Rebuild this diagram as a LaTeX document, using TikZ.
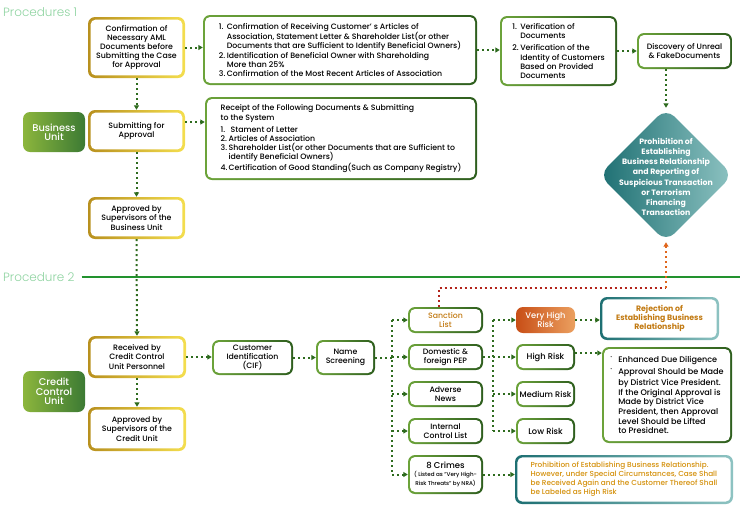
\documentclass[tikz,border=0pt]{standalone}
\usepackage{fontspec}
\setmainfont{Poppins}[UprightFont={* Medium}, BoldFont={* Bold}]
\newfontfamily\procfont{Poppins Light}
\usetikzlibrary{arrows.meta,shapes.geometric}
\definecolor{goldD}{HTML}{B8901E}
\definecolor{goldL}{HTML}{F4DE4E}
\definecolor{greenL}{HTML}{6CA33A}
\definecolor{greenD}{HTML}{2E5E1E}
\definecolor{tealD}{HTML}{1D6F72}
\definecolor{tealL}{HTML}{8EC3C2}
\definecolor{unitL}{HTML}{8CB63C}
\definecolor{unitD}{HTML}{3C7A34}
\definecolor{vhD}{HTML}{C84E16}
\definecolor{vhL}{HTML}{EBA060}
\definecolor{flowgreen}{HTML}{2E6B1E}
\definecolor{flowred}{HTML}{B3241C}
\definecolor{floworange}{HTML}{E0661C}
\definecolor{sepgreen}{HTML}{22922E}
\definecolor{procgreen}{HTML}{8ED3A0}
\definecolor{warntext}{HTML}{C27A12}
\definecolor{protext}{HTML}{D4900A}
\newcommand\listno[1]{\makebox[8pt][l]{#1}}
\newcommand\smalldot{\raisebox{4pt}{\scalebox{0.5}{•}}}
\tikzset{
	ring/.style n args={3}{left color=#1, right color=#2,
		path picture={\fill[white, rounded corners=5pt] ([shift={(#3,-#3)}]path picture bounding box.north west) rectangle ([shift={(-#3,#3)}]path picture bounding box.south east);}},
	box/.style={rounded corners=7pt, align=center, inner sep=2pt, font=\fontsize{7.8}{9.2}\selectfont},
	goldbox/.style={box, ring={goldD}{goldL}{2.6pt}},
	greenbox/.style={box, ring={greenL}{greenD}{2pt}},
	tealbox/.style={box, ring={tealD}{tealL}{2.4pt}},
	unitbox/.style={rounded corners=7pt, align=center, left color=unitL, right color=unitD, text=white, font=\fontsize{9.8}{9.4}\selectfont, minimum width=62pt},
	flow/.style={draw=flowgreen, line width=2pt, dash pattern=on 2pt off 3pt},
	tip/.style={-{Triangle[length=4.5pt,width=5pt]}},
	proclabel/.style={anchor=west, text=procgreen, font=\procfont\fontsize{12}{13}\selectfont, inner sep=0pt}
}

\begin{document}
\begin{tikzpicture}[x=1pt, y=-1pt]
	%%%%% START %%%%%
	\useasboundingbox (0,0) rectangle (740,507);

	\node[proclabel] (p1) at (3,12) {Procedures 1};

	\node[goldbox, minimum width=97pt, minimum height=61pt] (chk) at (136.5,47.5) {Confirmation of\\Necessary AML\\Documents before\\Submitting the Case\\for Approval};
	\node[greenbox, align=left, minimum width=274pt, minimum height=70pt] (rcv) at (340,50) {\listno{1.}Confirmation of Receiving Customer’ s Articles of\\\listno{}Association, Statement Letter \& Shareholder List(or other\\\listno{}Documents that are Sufficient to Identify Beneficial Owners)\\\listno{2.}Identification of Beneficial Owner with Shareholding\\\listno{}More than 25\%\\\listno{3.}Confirmation of the Most Recent Articles of Association};
	\node[greenbox, align=left, minimum width=117pt, minimum height=70pt] (ver) at (558.5,51) {\listno{1.}Verification of\\\listno{}Documents\\[3pt]\listno{2.}Verification of the\\\listno{}Identity of Customers\\\listno{}Based on Provided\\\listno{}Documents};
	\node[greenbox, minimum width=95pt, minimum height=36pt] (fake) at (684.5,51) {Discovery of Unreal\\\& FakeDocuments};

	\node[diamond, rounded corners=12pt, left color=tealD, right color=tealL, minimum width=134pt, minimum height=134pt, inner sep=0pt] (ban) at (666,175) {};
	\node[align=center, text=white, font=\bfseries\fontsize{7.8}{10.2}\selectfont] (bantext) at (666,177) {Prohibition of\\Establishing\\Business Relationship\\and Reporting of\\Suspicious Transaction\\or Terrorism\\Financing\\Transaction};

	\node[unitbox, minimum height=40pt] (bu) at (54,132) {Business\\Unit};
	\node[goldbox, minimum width=97pt, minimum height=42pt] (sub) at (136.5,131) {Submitting for\\Approval};
	\node[greenbox, align=left, minimum width=272pt, minimum height=83pt] (doc) at (341,138.5) {Receipt of the Following Documents \& Submitting\\to the System\\[3pt]\listno{1.} Stament of Letter\\\listno{2.}Articles of Association\\\listno{3.}Shareholder List(or other Documents that are Sufficient to\\\listno{}identify Beneficial Owners)\\\listno{4.}Certification of Good Standing(Such as Company Registry)};
	\node[goldbox, minimum width=97pt, minimum height=42pt] (appb) at (136.5,218) {Approved by\\Supervisors of the\\Business Unit};

	\node[proclabel] (p2) at (3,277) {Procedure 2};
	\draw[sepgreen, line width=1.2pt] ([xshift=7pt]p2.east) -- (740,277);

	\node[goldbox, minimum width=98pt, minimum height=42pt] (recv) at (137,357) {Received by\\Credit Control\\Unit Personnel};
	\node[unitbox, minimum height=41pt] (ccu) at (54,391.5) {Credit\\Control\\Unit};
	\node[goldbox, minimum width=98pt, minimum height=44pt] (appc) at (137,429) {Approved by\\Supervisors of the\\Credit Unit};
	\node[greenbox, minimum width=81pt, minimum height=35pt] (cif) at (252.5,357.5) {Customer\\Identification\\(CIF)};
	\node[greenbox, minimum width=59pt, minimum height=35pt] (scr) at (345.5,357.5) {Name\\Screening};

	% screening lists
	\node[greenbox, minimum width=75pt, minimum height=26pt, text=warntext] (sanc) at (445.5,320) {Sanction\\List};
	\node[greenbox, minimum width=75pt, minimum height=26pt] (pep) at (445.5,357) {Domestic \&\\foreign PEP};
	\node[greenbox, minimum width=75pt, minimum height=26pt] (adv) at (445.5,394) {Adverse\\News};
	\node[greenbox, minimum width=75pt, minimum height=26pt] (icl) at (445.5,431) {Internal\\Control List};
	\node[greenbox, minimum width=75pt, minimum height=39pt] (crime) at (445.5,474.5) {\fontsize{8.5}{9.5}\selectfont 8 Crimes\\[-1pt]\fontsize{5.6}{6.4}\selectfont ( Listed as "Very High-\\\fontsize{5.6}{6.4}\selectfont Risk Threats" by NRA)};

	% risk levels
	\node[box, left color=vhD, right color=vhL, text=white, font=\fontsize{8.3}{9.2}\selectfont, minimum width=59pt, minimum height=26pt] (vh) at (545.5,320) {Very High\\Risk};
	\node[greenbox, font=\fontsize{8.3}{9.2}\selectfont, minimum width=59pt, minimum height=26pt] (high) at (545.5,357) {High Risk};
	\node[greenbox, font=\fontsize{8.1}{9.2}\selectfont, minimum width=59pt, minimum height=26pt] (med) at (545.5,394) {Medium Risk};
	\node[greenbox, font=\fontsize{8.3}{9.2}\selectfont, minimum width=59pt, minimum height=26pt] (low) at (545.5,431) {Low Risk};

	% outcomes
	\node[tealbox, text=warntext, font=\bfseries\fontsize{7.8}{9.2}\selectfont, minimum width=119pt, minimum height=43pt] (rej) at (659.5,318.5) {Rejection of\\Establishing Business\\Relationship};
	\node[greenbox, align=left, font=\fontsize{8.1}{9.6}\selectfont, minimum width=130pt, minimum height=96pt] (edd) at (667,395) {\listno{\smalldot}Enhanced Due Diligence\\[2pt]\listno{\smalldot}Approval Should be Made\\[2pt]\listno{}by District Vice President.\\\listno{}If the Original Approval is\\\listno{}Made by District Vice\\\listno{}President, then Approval\\\listno{}Level Should be Lifted\\\listno{}to Presidnet.};
	\node[tealbox, align=left, text=protext, font=\fontsize{7.3}{9.1}\selectfont, minimum width=218pt, minimum height=49pt] (pro) at (624,479.5) {Prohibition of Establishing Business Relationship.\\However, under Special Circumstances, Case Shall\\be Received Again and the Customer Thereof Shall\\be Labeled as High Risk};

	%%%%% CONNECTORS %%%%%
	\coordinate (busA) at (392,0);
	\coordinate (busB) at (493,0);
	\coordinate (redturn) at (666,288);

	\draw[flow, tip] (chk.east) -- (chk.east -| rcv.west);
	\draw[flow, tip] (rcv.east) -- (rcv.east -| ver.west);
	\draw[flow, tip] (ver.east) -- (ver.east -| fake.west);
	\draw[flow, tip] (ban.north |- fake.south) -- (ban.north);

	\draw[flow, tip] (chk.south) -- (sub.north);
	\draw[flow, tip] ([yshift=9pt]sub.east) -- ([yshift=9pt]sub.east -| doc.west);
	\draw[flow, tip] (sub.south) -- (appb.north);
	\draw[flow, tip] (appb.south) -- (recv.north);
	\draw[flow, tip] (recv.south) -- (appc.north);
	\draw[flow, tip] (recv.east) -- (recv.east -| cif.west);
	\draw[flow, tip] (cif.east) -- (cif.east -| scr.west);

	\draw[flow] (scr.east) -- (scr.east -| busA);
	\draw[flow] (busA |- sanc.west) -- (busA |- crime.west);
	\foreach \n in {sanc,pep,adv,icl,crime}
		\draw[flow, tip] (busA |- \n.west) -- (\n.west);

	\draw[flow] (pep.east) -- (pep.east -| busB);
	\draw[flow] (busB |- vh.west) -- (busB |- low.west);
	\foreach \n in {vh,high,med,low}
		\draw[flow, tip] (busB |- \n.west) -- (\n.west);

	\draw[flow, tip] (vh.east) -- (vh.east -| rej.west);
	\draw[flow, tip] ([yshift=4pt]high.east) -- ([yshift=4pt]high.east -| edd.west);
	\draw[flow, tip] (crime.east) -- (crime.east -| pro.west);

	\draw[flow, draw=flowred] ([xshift=-7pt]sanc.north) |- (redturn);
	\draw[flow, draw=floworange, -{Triangle[length=4.5pt,width=5pt,fill=floworange]}] (redturn) -- (ban.south);

	%%%%% END %%%%%
\end{tikzpicture}
\end{document}
